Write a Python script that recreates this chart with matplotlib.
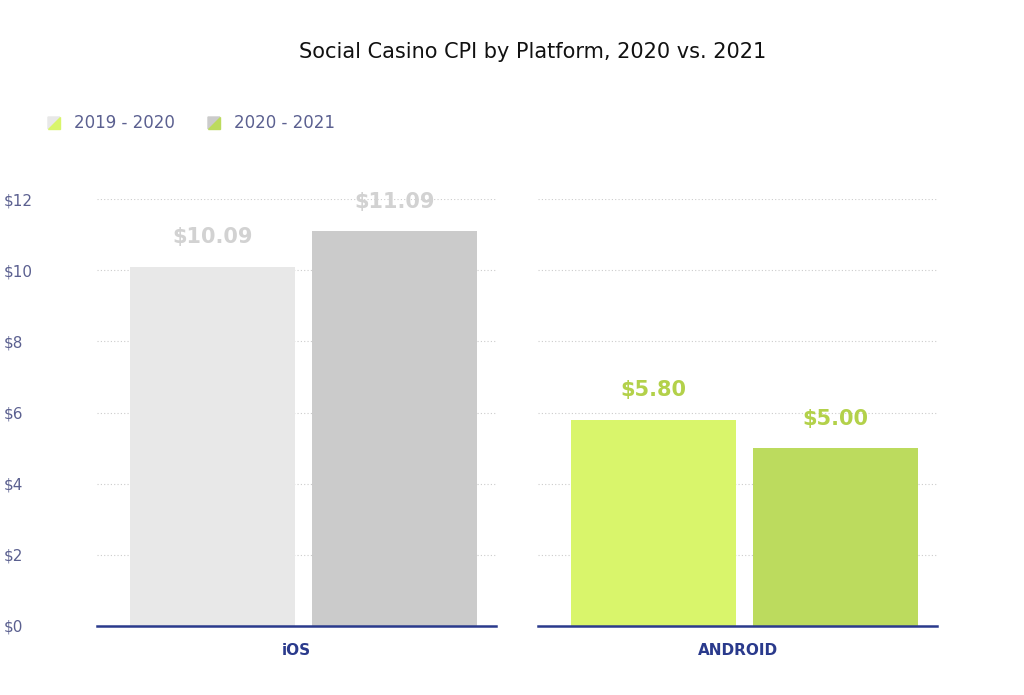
import matplotlib.pyplot as plt
from matplotlib.patches import Polygon

# ── Data ──────────────────────────────────────────────────────────────────────
platforms = ["iOS", "ANDROID"]
periods = ["2019 - 2020", "2020 - 2021"]
ios_values = [10.09, 11.09]
android_values = [5.80, 5.00]
yticks = [0, 2, 4, 6, 8, 10, 12]

ios_colors = ["#e8e8e8", "#cbcbcb"]
android_colors = ["#d9f56b", "#bcdb5e"]
ios_label_color = "#d2d2d2"
android_label_color = "#b3d14a"
navy = "#2a3a8c"
text_col = "#5b6090"

fig = plt.figure(figsize=(10.24, 6.95), dpi=100)
fig.patch.set_facecolor("white")

ax_w, ax_h, ax_b = 399 / 1024, 427 / 695, 1 - 626 / 695
ax1 = fig.add_axes([97 / 1024, ax_b, ax_w, ax_h])
ax2 = fig.add_axes([538 / 1024, ax_b, ax_w, ax_h])

centers = [0.29, 0.746]
bar_w = 0.413
for ax, vals, cols, lcol, name in [
    (ax1, ios_values, ios_colors, ios_label_color, platforms[0]),
    (ax2, android_values, android_colors, android_label_color, platforms[1]),
]:
    ax.set_xlim(0, 1)
    ax.set_ylim(0, 12)
    for y in yticks[1:]:
        ax.axhline(y, color="#cccccc", lw=0.8, ls=(0, (1, 2)), zorder=0)
    ax.bar(centers, vals, width=bar_w, color=cols, zorder=2)
    for c, v in zip(centers, vals):
        ax.text(c, v + 0.55, f"${v:.2f}", ha="center", va="bottom",
                fontsize=15, fontweight="bold", color=lcol, clip_on=False)
    for s in ["top", "right", "left"]:
        ax.spines[s].set_visible(False)
    ax.spines["bottom"].set_color(navy)
    ax.spines["bottom"].set_linewidth(1.8)
    ax.set_xticks([0.5])
    ax.set_xticklabels([name], fontsize=11, fontweight="bold", color=navy)
    ax.tick_params(axis="x", length=0, pad=12)
    ax.set_yticks([])

ax1.set_yticks(yticks)
ax1.set_yticklabels([f"${t}" for t in yticks], fontsize=11, color=text_col)
ax1.tick_params(axis="y", length=0, pad=30)
for lbl in ax1.get_yticklabels():
    lbl.set_horizontalalignment("left")
    lbl.set_x(-0.13)

fig.text(533 / 1024, 1 - 52 / 695, "Social Casino CPI by Platform, 2020 vs. 2021",
         ha="center", va="center", fontsize=15, color="#111111")

# legend: squares split diagonally (gray / green)
for x0, gray, green, label in [(48, ios_colors[0], android_colors[0], periods[0]),
                               (208, ios_colors[1], android_colors[1], periods[1])]:
    s = 12
    yc = 123
    x_l, x_r = x0 / 1024, (x0 + s) / 1024
    y_t, y_b = 1 - (yc - s / 2) / 695, 1 - (yc + s / 2) / 695
    fig.patches.append(Polygon([(x_l, y_t), (x_r, y_t), (x_l, y_b)], closed=True,
                               color=gray, transform=fig.transFigure))
    fig.patches.append(Polygon([(x_r, y_t), (x_r, y_b), (x_l, y_b)], closed=True,
                               color=green, transform=fig.transFigure))
    fig.text((x0 + 26) / 1024, 1 - yc / 695, label, ha="left", va="center",
             fontsize=12, color=text_col)

fig.savefig("out.png", dpi=100)
